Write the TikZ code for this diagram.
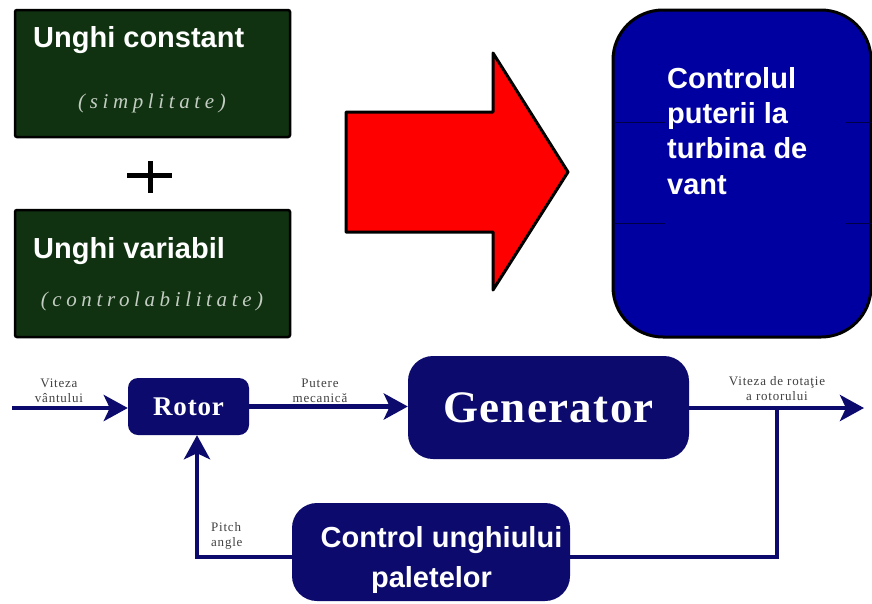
\documentclass[tikz,border=0pt]{standalone}
\usepackage{fontspec}
\setmainfont{Liberation Serif}
\newfontfamily\headsans{Liberation Sans}
\usetikzlibrary{arrows.meta}

\definecolor{boxgreen}{RGB}{16,50,16}
\definecolor{notegray}{RGB}{195,205,195}
\definecolor{panelblue}{RGB}{0,0,160}
\definecolor{panelline}{RGB}{0,0,70}
\definecolor{navy}{RGB}{12,10,108}
\definecolor{labelgray}{RGB}{65,65,65}

\tikzset{
  greenbox/.style={draw=black, line width=2.5pt, fill=boxgreen, rounded corners=2pt,
    minimum width=275pt, minimum height=127pt, inner sep=0pt},
  headtext/.style={text=white, font=\headsans\bfseries\fontsize{29}{35}\selectfont,
    inner sep=0pt, anchor=base west},
  notetext/.style={text=notegray,
    font=\itshape\fontsize{21}{24}\selectfont\addfontfeature{LetterSpace=22},
    inner sep=0pt, anchor=base},
  navybox/.style={fill=navy, inner sep=0pt, text=white},
  conn/.style={draw=navy, line width=4.5pt},
  arrowed/.style={-{Stealth[length=24pt,width=26pt,inset=6pt]}},
  smalllabel/.style={text=labelgray,
    font=\fontsize{13}{15}\selectfont\addfontfeature{LetterSpace=6},
    align=center, inner sep=0pt},
}

\begin{document}
\begin{tikzpicture}[x=1pt,y=-1pt]
  % canvas
  \fill[white] (0,0) rectangle (872,603);
  \useasboundingbox (0,0) rectangle (872,603);

  % the two blade-angle options
  \node[greenbox] (const) at (152.5,73.5) {};
  \node[headtext] (constlbl) at (33,47) {Unghi constant};
  \node[notetext] (constnote) at (152,108) {(simplitate)};

  \draw[line width=5pt] (127,175) -- (172,175);
  \draw[line width=5pt] (150,161) -- (150,193);

  \node[greenbox] (var) at (152.5,273.5) {};
  \node[headtext] (varlbl) at (33,258) {Unghi variabil};
  \node[notetext] (varnote) at (152,306) {(controlabilitate)};

  % big red arrow
  \draw[fill=red, line width=3pt, line join=round]
    (346,112) -- (493,112) -- (493,53) -- (568,172) -- (493,290)
    -- (493,232) -- (346,232) -- cycle;

  % result panel
  \node[draw=black, line width=3pt, fill=panelblue, rounded corners=50pt,
        minimum width=258pt, minimum height=327pt, inner sep=0pt]
        (panel) at (742,173.5) {};
  \draw[panelline, line width=1pt] (614,122) -- (665,122);
  \draw[panelline, line width=1pt] (845,122) -- (871,122);
  \draw[panelline, line width=1pt] (614,223) -- (665,223);
  \draw[panelline, line width=1pt] (845,223) -- (871,223);
  \node[headtext] (p1) at (667,88) {Controlul};
  \node[headtext] (p2) at (667,123) {puterii la};
  \node[headtext] (p3) at (667,158) {turbina de};
  \node[headtext] (p4) at (667,194) {vant};

  % control loop blocks
  \node[navybox, rounded corners=10pt, minimum width=121pt, minimum height=57pt,
        font=\bfseries\fontsize{27}{30}\selectfont\addfontfeature{LetterSpace=3}]
        (rotor) at (188.5,406.5) {Rotor};
  \node[navybox, rounded corners=25pt, minimum width=281pt, minimum height=103pt,
        font=\bfseries\fontsize{45}{50}\selectfont\addfontfeature{LetterSpace=3}]
        (gen) at (548.5,407.5) {Generator};
  \node[navybox, rounded corners=25pt, minimum width=278pt, minimum height=98pt]
        (ctrl) at (431,552) {};
  \node[headtext, anchor=base] (ctrl1) at (441.5,547) {Control unghiului};
  \node[headtext, anchor=base] (ctrl2) at (431.5,587) {paletelor};

  % signal connectors
  \coordinate (windin) at (12,408);
  \draw[conn, arrowed] (windin) -- (windin -| rotor.west);
  \draw[conn, arrowed] (rotor.east) -- (rotor.east -| gen.west);
  \coordinate (speedout) at (864,408);
  \draw[conn, arrowed] (gen.east |- speedout) -- (speedout);
  \coordinate (tap) at (777,408);
  \coordinate (fbright) at (777,557);
  \draw[conn] (tap) -- (fbright) -- (fbright -| ctrl.east);
  \coordinate (fbleft) at (197,557);
  \draw[conn, arrowed] (fbleft -| ctrl.west) -- (fbleft) -- (fbleft |- rotor.south);

  % signal labels
  \node[smalllabel] (windlbl) at (59,391) {Viteza\\vântului};
  \node[smalllabel] (powerlbl) at (320,391) {Putere\\mecanică};
  \node[smalllabel] (speedlbl) at (777,389) {Viteza de rotaţie\\a rotorului};
  \node[smalllabel, align=left, anchor=west] (pitchlbl) at (211,536) {Pitch\\angle};
\end{tikzpicture}
\end{document}
